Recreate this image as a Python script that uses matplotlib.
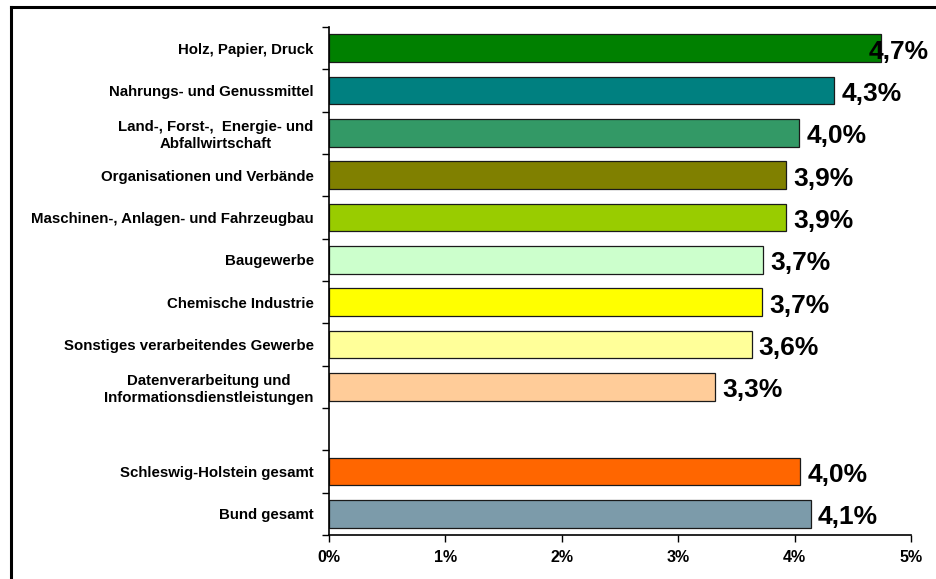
import matplotlib
matplotlib.use('Agg')
import matplotlib.pyplot as plt
from matplotlib.lines import Line2D

plt.rcParams['font.family'] = ['Liberation Sans', 'DejaVu Sans']

labels = ['Holz, Papier, Druck', 'Nahrungs- und Genussmittel',
          'Land-, Forst-,  Energie- und\nAbfallwirtschaft',
          'Organisationen und Verbände',
          'Maschinen-, Anlagen- und Fahrzeugbau', 'Baugewerbe',
          'Chemische Industrie', 'Sonstiges verarbeitendes Gewerbe',
          'Datenverarbeitung und\nInformationsdienstleistungen', '',
          'Schleswig-Holstein gesamt', 'Bund gesamt']
values = [4.74, 4.34, 4.04, 3.93, 3.93, 3.73, 3.72, 3.63, 3.32, None, 4.05, 4.14]
shown = ['4,7%', '4,3%', '4,0%', '3,9%', '3,9%', '3,7%', '3,7%', '3,6%', '3,3%', '', '4,0%', '4,1%']
colors = ['#008000', '#008080', '#339966', '#808000', '#99CC00', '#CCFFCC',
          '#FFFF00', '#FFFF99', '#FFCC99', 'white', '#FF6600', '#7C9BAA']
xticks = [0, 1, 2, 3, 4, 5]

fig = plt.figure(figsize=(9.36, 5.79), dpi=100)
ax = fig.add_axes([0.3515, 0.076, 0.6218, 0.8774])

for i, (v, c, s) in enumerate(zip(values, colors, shown)):
    if v is None:
        continue
    ax.barh(i, v, height=0.66, color=c, edgecolor='#1a1a1a', linewidth=0.9)
    x = v + 0.06
    if x + 0.55 > 5.2:   # no room left inside the frame: pull label onto the bar
        x = v - 0.1
    ax.text(x, i + 0.08, s, ha='left', va='center', fontsize=19, fontweight='bold')

n = len(labels)
ax.set_ylim(n - 0.5, -0.5)
ax.set_xlim(0, 5)
ax.set_yticks(range(n))
ax.set_yticklabels(labels, fontsize=10.8, fontweight='bold')
for t in ax.get_yticklabels():
    t.set_multialignment('center')
ax.tick_params(axis='y', which='major', length=0, pad=11)
ax.set_yticks([i - 0.5 for i in range(n + 1)], minor=True)
ax.tick_params(axis='y', which='minor', length=5, width=1)
ax.set_xticks(xticks)
ax.set_xticklabels([f'{t}%' for t in xticks], fontsize=11.5, fontweight='bold')
ax.tick_params(axis='x', length=5, width=1, pad=6)
for sp in ['top', 'right']:
    ax.spines[sp].set_visible(False)
for sp in ['left', 'bottom']:
    ax.spines[sp].set_linewidth(1.2)

# outer frame (top and left edges visible)
fig.add_artist(Line2D([10.5 / 936, 1], [1 - 7 / 579, 1 - 7 / 579], color='black', lw=2.2,
                      transform=fig.transFigure))
fig.add_artist(Line2D([10.5 / 936, 10.5 / 936], [0, 1 - 7 / 579], color='black', lw=2.2,
                      transform=fig.transFigure))

fig.savefig('out.png', dpi=100)
